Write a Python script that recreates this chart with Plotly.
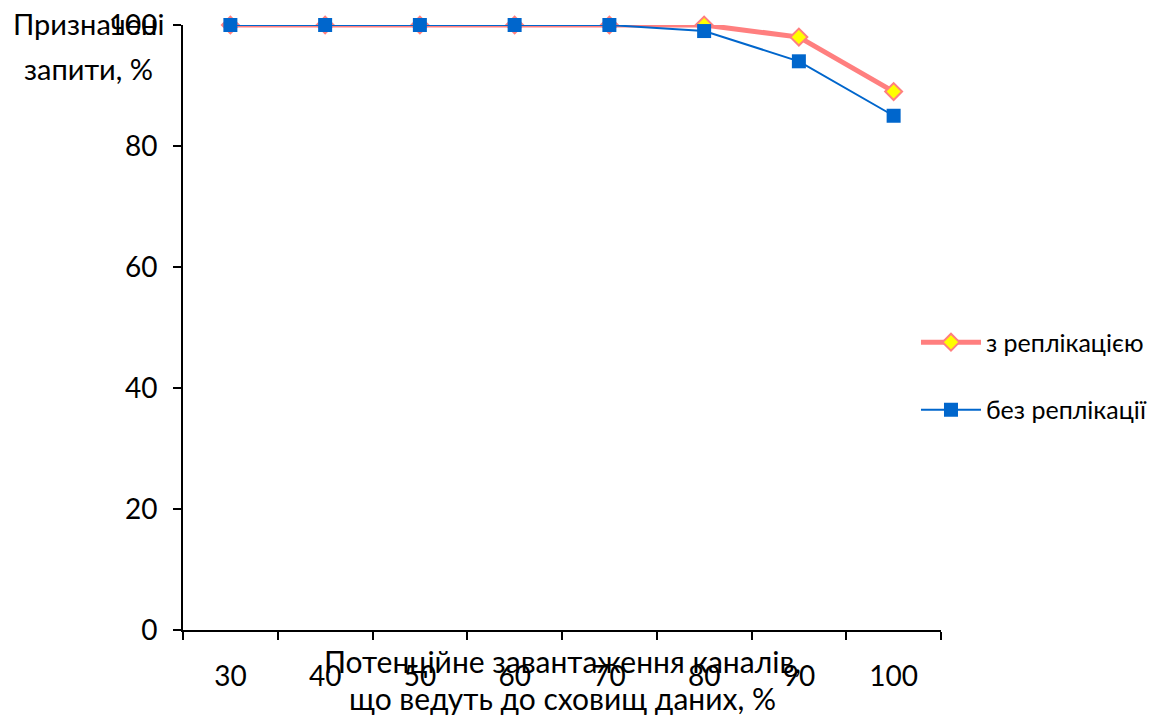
import plotly.graph_objects as go

# Channel load categories, %
categories = ["30", "40", "50", "60", "70", "80", "90", "100"]
# Served requests, %
with_replication = [100, 100, 100, 100, 100, 100, 98, 89]
without_replication = [100, 100, 100, 100, 100, 99, 94, 85]

series_names = ["з реплікацією", "без реплікації"]
y_ticks = [0, 20, 40, 60, 80, 100]

FONT = "Lato, 'Open Sans', sans-serif"

fig = go.Figure()
fig.add_trace(go.Scatter(
    x=categories, y=with_replication, name=series_names[0],
    mode="lines+markers", legendgroup="a", cliponaxis=False,
    line=dict(color="#FF7F7F", width=5),
    marker=dict(symbol="diamond", size=13, color="#FFFF00",
                line=dict(color="#FF7F7F", width=2)),
))
fig.add_trace(go.Scatter(
    x=categories, y=without_replication, name=series_names[1],
    mode="lines+markers", legendgroup="b", cliponaxis=False,
    line=dict(color="#0066CC", width=2),
    marker=dict(symbol="square", size=14, color="#0066CC"),
))

fig.update_layout(
    width=1157, height=719,
    margin=dict(l=183, r=216, t=25, b=89, autoexpand=False),
    paper_bgcolor="white", plot_bgcolor="white",
    font=dict(family=FONT, size=28, color="black"),
    showlegend=True,
    legend=dict(x=0.967, xanchor="left", y=0.42, yanchor="middle",
                font=dict(size=25), traceorder="grouped",
                tracegroupgap=32, itemwidth=60, bgcolor="rgba(0,0,0,0)"),
    xaxis=dict(
        type="category", range=[-0.5, 7.5], tickson="boundaries",
        showline=True, linecolor="black", linewidth=2,
        ticks="outside", ticklen=8, tickwidth=2, tickcolor="black",
        showgrid=False, zeroline=False, ticklabelstandoff=20,
        tickfont=dict(size=28),
    ),
    yaxis=dict(
        range=[0, 100], tickvals=y_ticks,
        showline=True, linecolor="black", linewidth=2,
        ticks="outside", ticklen=8, tickwidth=2, tickcolor="black",
        showgrid=False, zeroline=False, ticklabelstandoff=10,
        tickfont=dict(size=28),
    ),
    annotations=[
        dict(text="Призначені", xref="paper", yref="paper",
             x=-0.125, y=1.0, xanchor="center", yanchor="middle",
             yshift=2, showarrow=False, font=dict(size=29)),
        dict(text="запити, %", xref="paper", yref="paper",
             x=-0.125, y=1.0, xanchor="center", yanchor="middle",
             yshift=-43, showarrow=False, font=dict(size=29)),
        dict(text="Потенційне завантаження каналів,",
             xref="paper", yref="paper", x=0.5, y=0, xanchor="center",
             yanchor="middle", yshift=-31, showarrow=False,
             font=dict(size=30)),
        dict(text="що ведуть до сховищ даних, %",
             xref="paper", yref="paper", x=0.5, y=0, xanchor="center",
             yanchor="middle", yshift=-68, showarrow=False,
             font=dict(size=30)),
    ],
)

fig.write_html("out.html")
